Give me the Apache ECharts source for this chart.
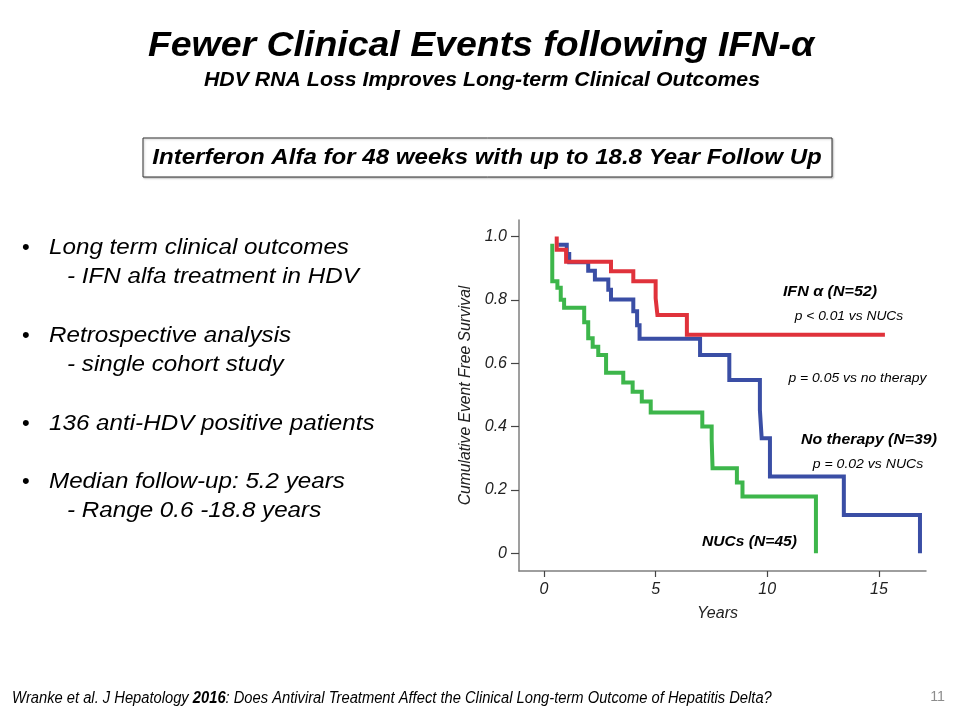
<!DOCTYPE html>
<html>
<head>
<meta charset="utf-8">
<script src="https://cdn.jsdelivr.net/npm/echarts@6/dist/echarts.min.js"></script>
<style>
html,body{margin:0;padding:0;background:#fff;}
#chart{width:960px;height:720px;}
</style>
</head>
<body>
<div id="chart"></div>
<script>
// ---- Data ----
const xTicks = [0, 5, 10, 15];
const yTicks = [0, 0.2, 0.4, 0.6, 0.8, 1.0];

// IFN alpha (N=52)
const ifnTime = [0.57, 0.57, 0.99, 3.0, 4.0, 5.0, 5.08, 6.4, 15.27];
const ifnSurv = [1.0, 0.958, 0.92, 0.89, 0.859, 0.805, 0.752, 0.69, 0.69];

// No therapy (N=39)
const noTxTime = [0.64, 1.02, 1.13, 1.98, 2.28, 2.88, 3.0, 4.0, 4.17, 4.28, 6.99, 8.3, 9.67, 9.75, 10.12, 13.43, 16.84];
const noTxSurv = [0.974, 0.945, 0.919, 0.892, 0.864, 0.832, 0.801, 0.764, 0.72, 0.677, 0.626, 0.547, 0.452, 0.363, 0.242, 0.121, 0.0];

// NUCs (N=45)
const nucTime = [0.37, 0.37, 0.6, 0.75, 0.9, 1.8, 1.98, 2.18, 2.43, 2.78, 3.55, 3.97, 4.38, 4.78, 7.09, 7.51, 7.55, 8.64, 8.89, 12.18];
const nucSurv = [0.977, 0.859, 0.838, 0.80, 0.775, 0.729, 0.679, 0.652, 0.626, 0.570, 0.539, 0.510, 0.479, 0.444, 0.40, 0.358, 0.268, 0.223, 0.179, 0.0];

const seriesNames = ['NUCs (N=45)', 'No therapy (N=39)', 'IFN α (N=52)'];

function pairs(t, s) { return t.map((v, i) => [v, s[i]]); }

const FONT = '"Liberation Sans", Arial, Helvetica, sans-serif';

const chart = echarts.init(document.getElementById('chart'), null, {renderer: 'canvas'});

function txt(text, x, y, font, opts) {
  opts = opts || {};
  const align = opts.align || 'left';
  const va = opts.va || 'middle';
  return {
    type: 'text', silent: true,
    x: x, y: y, scaleX: opts.sx || 1, scaleY: 1,
    style: Object.assign({
      text: text, x: 0, y: 0, font: font,
      fill: opts.fill || '#000',
      align: align, textAlign: align,
      verticalAlign: va, textVerticalAlign: va
    }, opts.extra || {})
  };
}

const bulletFont = 'italic 22px ' + FONT;
const BS = 1.10;

const option = {
  backgroundColor: '#ffffff',
  animation: false,
  grid: { left: 519, right: 34, top: 220, bottom: 149, containLabel: false },
  xAxis: {
    type: 'value',
    min: -1.12, max: 17.11,
    name: 'Years',
    nameLocation: 'middle',
    nameGap: 35,
    nameTextStyle: { fontFamily: FONT, fontStyle: 'italic', fontSize: 16, color: '#222', padding: [0, 10, 0, 0] },
    axisLine: { show: true, onZero: false, lineStyle: { color: '#7f7f7f', width: 1.5 } },
    axisTick: { show: true, customValues: xTicks, length: 6, inside: false, lineStyle: { color: '#444', width: 1.2 } },
    axisLabel: { customValues: xTicks, margin: 11, fontFamily: FONT, fontStyle: 'italic', fontSize: 16, color: '#222',
      formatter: v => String(v) },
    splitLine: { show: false }
  },
  yAxis: {
    type: 'value',
    min: -0.056, max: 1.052,
    name: 'Cumulative Event Free Survival',
    nameLocation: 'middle',
    nameGap: 45,
    nameTextStyle: { fontFamily: FONT, fontStyle: 'italic', fontSize: 15.7, color: '#222' },
    axisLine: { show: true, onZero: false, lineStyle: { color: '#7f7f7f', width: 1.5 } },
    axisTick: { show: true, customValues: yTicks, length: 8, inside: false, lineStyle: { color: '#444', width: 1.2 } },
    axisLabel: { customValues: yTicks, margin: 12, fontFamily: FONT, fontStyle: 'italic', fontSize: 16, color: '#222',
      formatter: v => (Math.abs(v) < 1e-9 ? '0' : v.toFixed(1)) },
    splitLine: { show: false }
  },
  series: [
    { name: seriesNames[0], type: 'line', step: 'end', showSymbol: false, symbol: 'none', silent: true,
      data: pairs(nucTime, nucSurv), lineStyle: { color: '#3db64b', width: 4, join: 'miter' }, itemStyle: { color: '#3db64b' } },
    { name: seriesNames[1], type: 'line', step: 'end', showSymbol: false, symbol: 'none', silent: true,
      data: pairs(noTxTime, noTxSurv), lineStyle: { color: '#3a4ea5', width: 4, join: 'miter' }, itemStyle: { color: '#3a4ea5' } },
    { name: seriesNames[2], type: 'line', step: 'end', showSymbol: false, symbol: 'none', silent: true,
      data: pairs(ifnTime, ifnSurv), lineStyle: { color: '#e0323b', width: 4, join: 'miter' }, itemStyle: { color: '#e0323b' } }
  ],
  graphic: [
    txt('Fewer Clinical Events following IFN-α', 481, 46, 'italic bold 35px ' + FONT, { align: 'center', sx: 1.07 }),
    txt('HDV RNA Loss Improves Long-term Clinical Outcomes', 482, 81, 'italic bold 19.5px ' + FONT, { align: 'center', sx: 1.092 }),
    { type: 'rect', silent: true, shape: { x: 143, y: 138, width: 689, height: 39 },
      style: { fill: '#fff', stroke: '#333', lineWidth: 1, shadowBlur: 2, shadowColor: 'rgba(0,0,0,0.25)', shadowOffsetX: 1, shadowOffsetY: 1 } },
    txt('Interferon Alfa for 48 weeks with up to 18.8 Year Follow Up', 487, 158, 'italic bold 21.5px ' + FONT, { align: 'center', sx: 1.12 }),

    txt('•', 22, 248, '22px ' + FONT),
    txt('Long term clinical outcomes', 49, 248, bulletFont, { sx: BS }),
    txt('- IFN alfa treatment in HDV', 67, 277, bulletFont, { sx: BS }),
    txt('•', 22, 336, '22px ' + FONT),
    txt('Retrospective analysis', 49, 336, bulletFont, { sx: BS }),
    txt('- single cohort study', 67, 365, bulletFont, { sx: BS }),
    txt('•', 22, 424, '22px ' + FONT),
    txt('136 anti-HDV positive patients', 49, 424, bulletFont, { sx: BS }),
    txt('•', 22, 482, '22px ' + FONT),
    txt('Median follow-up: 5.2 years', 49, 482, bulletFont, { sx: BS }),
    txt('- Range 0.6 -18.8 years', 67, 511, bulletFont, { sx: BS }),

    txt('IFN α (N=52)', 830, 292, 'italic bold 15px ' + FONT, { align: 'center', sx: 1.07 }),
    txt('p < 0.01 vs NUCs', 849, 316, 'italic 13px ' + FONT, { align: 'center', sx: 1.06 }),
    txt('p = 0.05 vs no therapy', 857.5, 378, 'italic 13px ' + FONT, { align: 'center', sx: 1.07 }),
    txt('No therapy (N=39)', 869, 440, 'italic bold 15px ' + FONT, { align: 'center', sx: 1.055 }),
    txt('p = 0.02 vs NUCs', 868, 464, 'italic 13px ' + FONT, { align: 'center', sx: 1.08 }),
    txt('NUCs (N=45)', 749.5, 542, 'italic bold 15px ' + FONT, { align: 'center', sx: 1.04 }),

    { type: 'text', silent: true, x: 12, y: 699, scaleX: 0.92, scaleY: 1,
      style: { x: 0, y: 0, align: 'left', textAlign: 'left', verticalAlign: 'middle', textVerticalAlign: 'middle',
        text: '{n|Wranke et al. J Hepatology }{b|2016}{n|: Does Antiviral Treatment Affect the Clinical Long-term Outcome of Hepatitis Delta?}',
        rich: {
          n: { fontFamily: FONT, fontStyle: 'italic', fontSize: 16, color: '#000' },
          b: { fontFamily: FONT, fontStyle: 'italic', fontWeight: 'bold', fontSize: 16, color: '#000' }
        } } },
    txt('11', 945, 697, '15px ' + FONT, { align: 'right', fill: '#8c8c8c', sx: 0.95 })
  ]
};

chart.setOption(option);
</script>
</body>
</html>
